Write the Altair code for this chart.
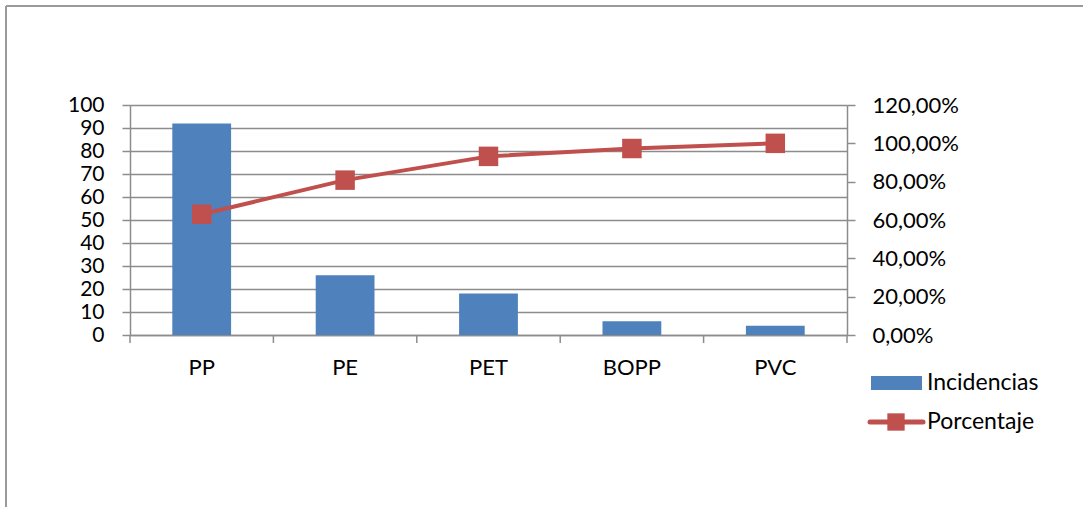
import altair as alt
import pandas as pd

categories = ["PP", "PE", "PET", "BOPP", "PVC"]
incidencias = [92, 26, 18, 6, 4]
porcentaje = [0.630, 0.808, 0.932, 0.973, 1.000]

left_ticks = [0, 10, 20, 30, 40, 50, 60, 70, 80, 90, 100]
right_ticks = [0, 0.2, 0.4, 0.6, 0.8, 1.0, 1.2]
category_bounds = [0, 1, 2, 3, 4, 5]

df = pd.DataFrame({"cat": categories, "inc": incidencias, "pct": porcentaje})
bounds_df = pd.DataFrame({"b": category_bounds})

FONT = "Lato"
FS = 22
BLUE = "#4F81BD"
RED = "#C0504D"
GRID = "#8C8C8C"
W, H = 717, 230

xenc = alt.X("cat:N", sort=categories, title=None,
             scale=alt.Scale(paddingInner=0.59, paddingOuter=0.295),
             axis=alt.Axis(labelAngle=0, labelFont=FONT, labelFontSize=FS, labelColor="#000",
                           labelPadding=22, ticks=False, domainColor=GRID, domainWidth=1.5,
                           grid=False))

bars = alt.Chart(df).mark_bar(color=BLUE).encode(
    x=xenc,
    y=alt.Y("inc:Q", title=None,
            scale=alt.Scale(domain=[0, 100], nice=False),
            axis=alt.Axis(values=left_ticks, labelFont=FONT, labelFontSize=21, labelColor="#000",
                          tickSize=8, tickColor=GRID, tickWidth=1.5, domainColor=GRID,
                          domainWidth=1.5, labelPadding=18,
                          grid=True, gridColor=GRID, gridWidth=1.5)),
)

line = alt.Chart(df).mark_line(
    color=RED, strokeWidth=4,
    point=alt.OverlayMarkDef(shape="square", filled=True, color=RED, size=380, opacity=1),
).encode(
    x=alt.X("cat:N", sort=categories),
    y=alt.Y("pct:Q", title=None, scale=alt.Scale(domain=[0, 1.2], nice=False),
            axis=alt.Axis(orient="right", values=right_ticks, labelFont=FONT, labelFontSize=FS,
                          labelColor="#000", tickSize=8, tickColor=GRID, tickWidth=1.5,
                          domainColor=GRID, domainWidth=1.5,
                          labelPadding=17, grid=False,
                          labelExpr="replace(format(datum.value, '.2%'), '.', ',')")),
)

main = alt.layer(bars, line).resolve_scale(y="independent")

# category boundary ticks under the x axis
xticks = alt.Chart(bounds_df).mark_rule(color=GRID, strokeWidth=1.5).encode(
    x=alt.X("b:Q", scale=alt.Scale(domain=[0, 5], nice=False), axis=None),
    y=alt.value(H), y2=alt.value(H + 8),
)

# chart frame (decoration)
frame_top = alt.Chart(df.head(1)).mark_rule(color="#9a9a9a", strokeWidth=2).encode(
    x=alt.value(-124), x2=alt.value(960), y=alt.value(-99))
frame_left = alt.Chart(df.head(1)).mark_rule(color="#9a9a9a", strokeWidth=2).encode(
    x=alt.value(-124), y=alt.value(-99), y2=alt.value(410))

# manual legend
leg_rect = alt.Chart(df.head(1)).mark_rect(color=BLUE).encode(
    x=alt.value(741), x2=alt.value(792), y=alt.value(271), y2=alt.value(285))
leg_line = alt.Chart(df.head(1)).mark_rule(color=RED, strokeWidth=5, strokeCap="round").encode(
    x=alt.value(740), x2=alt.value(793), y=alt.value(317))
leg_sq = alt.Chart(df.head(1)).mark_point(shape="square", filled=True, color=RED, size=300, opacity=1).encode(
    x=alt.value(766), y=alt.value(317))
leg_t1 = alt.Chart(df.head(1)).mark_text(text="Incidencias", font=FONT, fontSize=23, align="left",
                                         baseline="middle", color="#000").encode(
    x=alt.value(797), y=alt.value(278))
leg_t2 = alt.Chart(df.head(1)).mark_text(text="Porcentaje", font=FONT, fontSize=23, align="left",
                                         baseline="middle", color="#000").encode(
    x=alt.value(797), y=alt.value(317))

chart = alt.layer(main, xticks, frame_top, frame_left, leg_rect, leg_line, leg_sq, leg_t1, leg_t2
).resolve_scale(x="independent").properties(
    width=W, height=H,
    autosize=alt.AutoSizeParams(type="none"),
    padding={"left": 130, "top": 105, "right": 236, "bottom": 172},
    background="white",
).configure_view(stroke=None)

chart.save("out.html", embed_options={"renderer": "svg", "actions": False})
